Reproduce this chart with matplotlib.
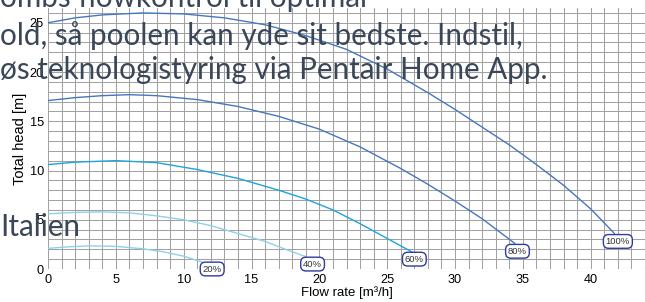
import matplotlib
matplotlib.use("Agg")
import matplotlib.pyplot as plt

# ---- data ----
x100 = [0, 2, 4, 7, 10, 13, 16, 19, 22, 25, 28, 30, 32, 34, 36, 38, 40, 41.75]
y100 = [25.0, 25.5, 25.8, 26.0, 25.9, 25.5, 24.8, 23.7, 22.3, 20.3, 17.9, 16.2, 14.4, 12.6, 10.6, 8.5, 6.1, 3.6]
x80 = [0, 2, 4, 6, 8, 11, 14, 17, 20, 23, 26, 28, 30, 32, 34.4]
y80 = [17.1, 17.4, 17.6, 17.7, 17.6, 17.2, 16.5, 15.5, 14.2, 12.4, 10.2, 8.6, 6.9, 5.1, 2.6]
x60 = [0, 2, 5, 8, 11, 14, 17, 19, 21, 23, 25, 26.8]
y60 = [10.6, 10.85, 11.0, 10.8, 10.1, 9.2, 8.0, 7.1, 6.0, 4.6, 3.1, 1.75]
x40 = [0, 2, 4, 6, 8, 10, 12, 14, 16, 17.5, 19.1]
y40 = [5.6, 5.75, 5.8, 5.7, 5.4, 5.0, 4.4, 3.6, 2.8, 2.0, 1.2]
x20 = [0, 1.5, 3, 5, 7, 8.5, 10, 11.6]
y20 = [2.1, 2.25, 2.35, 2.3, 2.05, 1.75, 1.3, 0.6]

speed_labels = ["100%", "80%", "60%", "40%", "20%"]
label_x = [42.0, 34.6, 27.0, 19.5, 12.1]
label_y = [2.8, 1.8, 1.0, 0.5, 0.0]

x_ticks = [0, 5, 10, 15, 20, 25, 30, 35, 40]
y_ticks = [0, 5, 10, 15, 20, 25]

overlay_lines = [
    "ombs flowkontrol til optimal",
    "old, så poolen kan yde sit bedste. Indstil,",
    "øs teknologistyring via Pentair Home App.",
    "Italien",
]

# ---- figure ----
W, H = 645, 302
fig = plt.figure(figsize=(W / 100, H / 100), dpi=100)
ax = fig.add_axes([48 / W, (H - 269) / H, (W - 48) / W, (269 - 8) / H])
ax.set_xlim(0, 44)
ax.set_ylim(0, 26.5)

for s in ax.spines.values():
    s.set_visible(False)

ax.set_xticks(x_ticks)
ax.set_yticks(y_ticks)
ax.set_xticks(range(0, 45), minor=True)
ax.set_yticks(range(0, 27), minor=True)
ax.grid(True, which="both", color="#a2a2a2", linewidth=0.75)
ax.set_axisbelow(True)
ax.tick_params(which="both", length=0)
ax.tick_params(axis="x", pad=3.5)
ax.tick_params(axis="y", pad=3)
for lab in ax.get_xticklabels() + ax.get_yticklabels():
    lab.set_fontfamily("Liberation Sans")
    lab.set_fontsize(9.2)

c_dark = "#4677be"
c_mid = "#1ea4dc"
c_light = "#8ed2e6"
series = [(x100, y100, c_dark), (x80, y80, c_dark), (x60, y60, c_mid),
          (x40, y40, c_light), (x20, y20, c_light)]
for xs, ys, c in series:
    ax.plot(xs, ys, color=c, linewidth=1.0, solid_capstyle="round")

for t, lx, ly in zip(speed_labels, label_x, label_y):
    ax.text(lx, ly, t, fontsize=6.8, family="Liberation Sans", color="#333333",
            ha="center", va="center", clip_on=False, zorder=5,
            bbox=dict(boxstyle="round,pad=0.25,rounding_size=0.55",
                      fc="white", ec="#2e3c9c", lw=1.0))

ax.set_xlabel("Flow rate [m³/h]", fontsize=9.5, family="Liberation Sans", labelpad=0)
ax.set_ylabel("Total head [m]", fontsize=10.5, family="Liberation Sans", labelpad=2)

# ---- overlaid page text ----
baselines = [7, 45, 79, 236]
txts = []
for line, b in zip(overlay_lines, baselines):
    t = fig.text(0, 1 - b / H, line, fontsize=19, family="Lato",
                 color="#3a4759", ha="left", va="baseline", zorder=10)
    txts.append(t)

fig.canvas.draw()
r = fig.canvas.get_renderer()
w = txts[1].get_window_extent(r).width
scale = 523 / w
for t in txts:
    t.set_fontsize(19 * scale)

fig.savefig("out.png", dpi=100)
